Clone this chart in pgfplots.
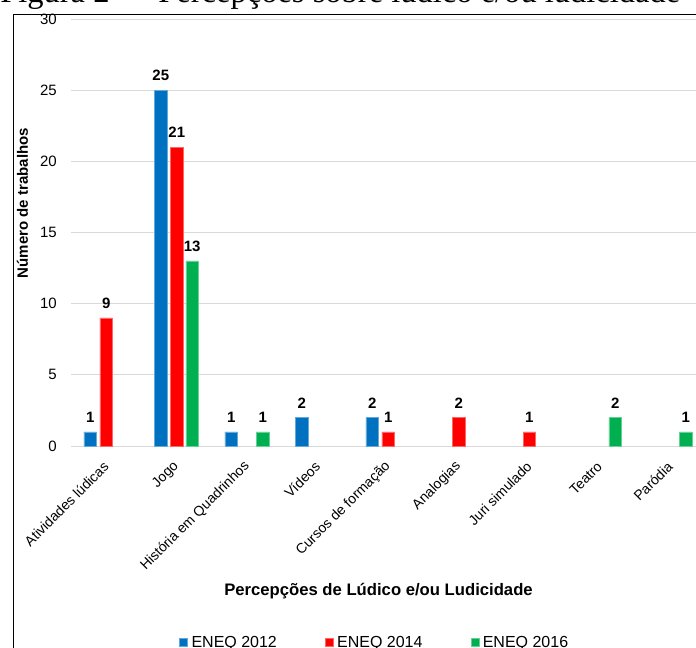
\documentclass[border=0pt]{standalone}
\usepackage{graphicx}
\usepackage{fontspec}
\setmainfont{Liberation Sans}
\newfontfamily\titlefont{Liberation Serif}
\usepackage{pgfplots}
\pgfplotsset{compat=1.18}
\definecolor{eneqA}{HTML}{0070C0}
\definecolor{eneqB}{HTML}{FF0000}
\definecolor{eneqC}{HTML}{00B050}
\definecolor{gridgray}{HTML}{D9D9D9}
\begin{document}
\begin{tikzpicture}
\path[use as bounding box] (0pt,0pt) rectangle (522pt,-486pt);
\clip (0pt,0pt) rectangle (522pt,-486pt);
% caption line above the chart frame
\node[anchor=base west, inner sep=0pt] at (0pt,-2.25pt)
  {\resizebox{510pt}{!}{\titlefont Figura 2 — Percepções sobre lúdico e/ou ludicidade}};
% chart frame
\draw[line width=1pt] (10.25pt,-490pt) -- (10.25pt,-10.7pt) -- (530pt,-10.7pt);
\begin{axis}[
  at={(53.25pt,-334.5pt)}, anchor=south west,
  scale only axis, width=475.9pt, height=320.25pt,
  xmin=-0.5, xmax=8.5, ymin=0, ymax=30,
  ybar,
  legend image code/.code={\fill[#1] (0pt,-3pt) rectangle (6pt,3pt);},
  axis line style={draw=none},
  major tick length=0pt,
  ymajorgrids, grid style={line width=0.75pt, gridgray},
  ytick={0,5,...,30},
  xtick={0,...,8},
  xticklabels={Atividades lúdicas, Jogo, História em Quadrinhos, Vídeos,
    Cursos de formação, Analogias, Juri simulado, Teatro, Paródia},
  /pgf/number format/assume math mode=true,
  yticklabel style={font=\fontsize{11.25}{13}\selectfont, anchor=east, inner sep=0pt, xshift=-10.5pt},
  xticklabel style={font=\fontsize{10.5}{12}\selectfont, rotate=45, anchor=east, inner sep=0pt},
  xticklabel shift=13.5pt,
  ylabel={Número de trabalhos},
  ylabel style={font=\bfseries\fontsize{11.25}{13}\selectfont, at={(axis description cs:-0.0764,0.569)}, anchor=center},
  xlabel={Percepções de Lúdico e/ou Ludicidade},
  xlabel style={font=\bfseries\fontsize{12.5}{14}\selectfont, at={(axis description cs:0.4846,-0.349)}, anchor=base},
  bar width=9.4pt,
  nodes near coords={\pgfmathprintnumber{\pgfplotspointmeta}},
  every node near coord/.append style={font=\bfseries\fontsize{11.25}{13}\selectfont, anchor=base, inner sep=0pt, yshift=7.1pt},
  legend columns=3,
  legend style={draw=none, fill=none, inner sep=0pt, at={(axis description cs:0.1702,-0.460)}, anchor=west,
    font=\fontsize{12}{14}\selectfont,
    nodes={inner sep=0pt},
    /tikz/every odd column/.append style={column sep=2.8pt},
    /tikz/every even column/.append style={column sep=36pt}},
]
\addplot[fill=eneqA, draw=eneqA!60!white, line width=0.4pt, bar shift=-12pt]
  coordinates {(0,1) (1,25) (2,1) (3,2) (4,2)};
\addplot[fill=eneqB, draw=eneqB!60!white, line width=0.4pt, bar shift=0pt]
  coordinates {(0,9) (1,21) (4,1) (5,2) (6,1)};
\addplot[fill=eneqC, draw=eneqC!60!white, line width=0.4pt, bar shift=11.6pt]
  coordinates {(1,13) (2,1) (7,2) (8,1)};
\legend{ENEQ 2012, ENEQ 2014, ENEQ 2016}
\end{axis}
\end{tikzpicture}
\end{document}
